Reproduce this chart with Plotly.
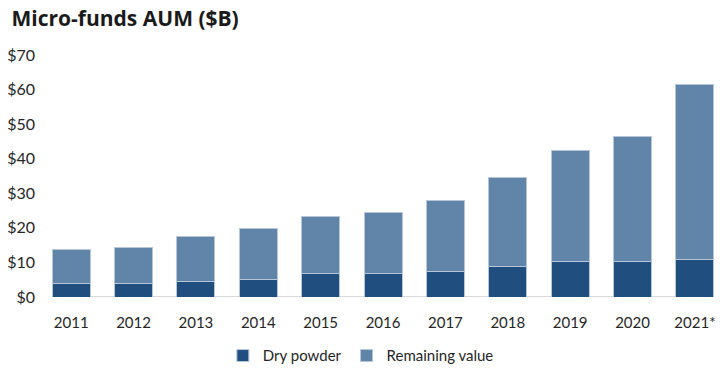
import plotly.graph_objects as go

years = ["2011", "2012", "2013", "2014", "2015", "2016", "2017", "2018", "2019", "2020", "2021*"]
dry_powder = [4.0, 4.0, 4.6, 5.2, 6.7, 6.7, 7.4, 8.7, 10.2, 10.2, 10.8]
total_aum = [13.6, 14.2, 17.6, 19.7, 23.2, 24.5, 27.9, 34.7, 42.3, 46.3, 61.5]
remaining_value = [round(t - d, 1) for t, d in zip(total_aum, dry_powder)]
y_tickvals = [0, 10, 20, 30, 40, 50, 60, 70]
y_ticktext = ["$0", "$10", "$20", "$30", "$40", "$50", "$60", "$70"]

dark = "#1F4E7F"
light = "#6185A8"
font_family = "'Liberation Sans Narrow', Lato, 'Noto Sans', sans-serif"

fig = go.Figure()
fig.add_trace(go.Bar(x=years, y=dry_powder, name="Dry powder",
                     marker=dict(color=dark, line=dict(color="#B8C7D8", width=1))))
fig.add_trace(go.Bar(x=years, y=remaining_value, name="Remaining value",
                     marker=dict(color=light, line=dict(color="#B8C7D8", width=1))))

fig.add_shape(type="line", xref="x", yref="y", x0=-0.31, x1=10.31, y0=0, y1=0,
              line=dict(color="#D9D9D9", width=2), layer="below")

fig.update_layout(
    barmode="stack",
    bargap=0.39,
    width=710, height=370,
    margin=dict(l=32, r=0, t=47, b=81, autoexpand=False),
    paper_bgcolor="white", plot_bgcolor="white",
    title=dict(text="<b>Micro-funds AUM ($B)</b>", x=0.005, xanchor="left",
               xref="container", y=0.99, yanchor="top",
               font=dict(family="'Open Sans', sans-serif", size=21, color="#1a1a1a")),
    font=dict(family=font_family, size=15, color="#262626"),
    xaxis=dict(showgrid=False, showline=False, zeroline=False, ticks="",
               range=[-0.5, 10.37], automargin=False, ticklabelstandoff=15,
               tickfont=dict(size=15, color="#262626")),
    yaxis=dict(range=[0, 70], tickvals=y_tickvals, ticktext=y_ticktext,
               showgrid=False, zeroline=False, showline=False, ticks="",
               automargin=False, ticklabelstandoff=4,
               tickfont=dict(size=16, color="#262626")),
    legend=dict(orientation="h", xref="container", yref="container",
                x=0.497, xanchor="center", y=0.06, yanchor="middle",
                font=dict(size=15, color="#262626"), itemwidth=30,
                traceorder="normal"),
)

fig.write_html("out.html")
